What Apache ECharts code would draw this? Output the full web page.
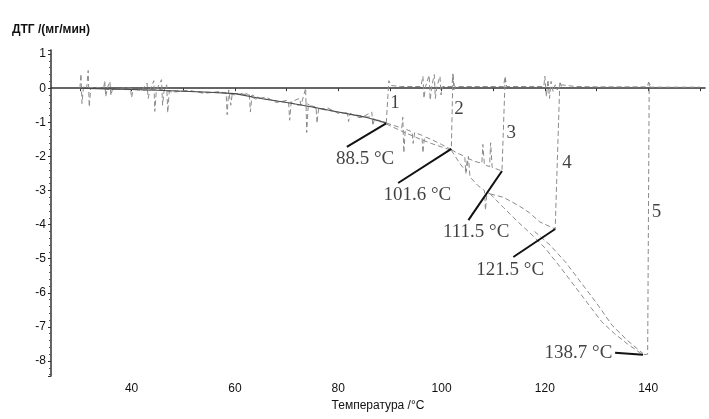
<!DOCTYPE html>
<html><head><meta charset="utf-8">
<script src="https://cdn.jsdelivr.net/npm/echarts@6/dist/echarts.min.js"></script>
<style>html,body{margin:0;padding:0;background:#fff}#c{width:709px;height:419px}</style>
</head><body><div id="c"></div>
<script>
// Smooth mean trunk (shared start of all runs)
const meanCurve = [[30,0],[35,-0.02],[40,-0.04],[45,-0.06],[50,-0.09],[55,-0.12],[60,-0.16],[65,-0.3],[70,-0.42],[75,-0.55],[80,-0.7],[85,-0.84],[89.3,-1.02]];
// Noisy trunk 30 -> 88.5 °C
const trunk = [[30,0],[30.2,0.42],[30.4,-0.45],[30.7,0.05],[31.3,0],[31.6,0.52],[31.8,-0.55],[32.1,0.02],[33,0],[34.6,-0.01],[34.8,0.22],[35,-0.25],[35.3,0],[35.8,0.2],[36,-0.22],[36.3,-0.02],[38,-0.03],[39.8,-0.03],[40,-0.28],[40.3,-0.04],[42,-0.05],[43,0.15],[43.2,-0.3],[43.6,-0.04],[44.3,0.22],[44.5,-0.68],[44.8,-0.05],[45.8,0.25],[46,-0.5],[46.3,-0.06],[46.8,0.1],[47,-0.72],[47.3,-0.07],[50,-0.09],[52,-0.1],[55,-0.12],[58.3,-0.14],[58.5,-0.78],[58.8,-0.05],[59.2,-0.5],[59.5,-0.15],[61,-0.17],[62.8,-0.19],[63,-0.7],[63.3,-0.2],[65,-0.3],[68,-0.37],[70.4,-0.42],[70.6,-0.94],[70.9,-0.4],[72.5,-0.3],[72.8,-0.5],[73.7,0.0],[73.9,-1.3],[74.2,-0.5],[75.7,-0.55],[75.9,-1.03],[76.2,-0.6],[78,-0.65],[80,-0.7],[81.8,-0.75],[82,-0.98],[82.3,-0.76],[85,-0.82],[86.5,-0.7],[86.7,-1.1],[87,-0.9],[89.3,-1.02]];
// Second run trace along the trunk (small wiggles)
const trunkB = [[30,-0.02],[33,0.03],[36,-0.05],[39,0.02],[42,-0.07],[45,-0.02],[48,-0.12],[51,-0.06],[54,-0.15],[57,-0.1],[60,-0.2],[62,-0.14],[64,-0.32],[66,-0.26],[68,-0.42],[70,-0.36],[72,-0.5],[74,-0.46],[76,-0.62],[78,-0.58],[80,-0.74],[82,-0.72],[84,-0.86],[86,-0.84],[88,-0.98],[89.3,-1.0]];
// Run 1: jump at 88.5 °C and the baseline afterwards
const run1 = [[89.3,-1.02],[89.8,0.22],[90.2,0.08],[92,0.05],[96,0.05],[96.4,0.35],[96.6,-0.3],[96.9,0.05],[97.6,0.38],[97.8,-0.35],[98.1,0.05],[98.6,0.4],[98.8,-0.3],[99.1,0.05],[99.7,0.35],[99.9,-0.2],[100.2,0.05],[102,0.05],[102.2,0.42],[102.4,-0.05],[102.7,0.05],[108,0.05],[112,0.05],[112.3,0.35],[112.6,0.05],[117,0.05],[119.8,0.05],[120,0.35],[120.3,-0.25],[120.6,0.25],[120.9,-0.3],[121.2,0.2],[121.6,-0.1],[122,0.1],[122.4,-0.05],[123,0.1],[126,0.05],[130,0.04],[135,0.04],[139.8,0.04],[140.1,0.18],[140.4,0.03],[145,0.03],[150,0.03]];
// Run 2: 88.5 -> 101.6 °C
const run2 = [[89.3,-1.02],[90.5,-1.08],[92.3,-1.17],[92.5,-0.85],[92.7,-1.9],[93,-1.2],[94.3,-1.28],[94.5,-1.62],[94.8,-1.3],[96.2,-1.38],[96.4,-1.9],[96.7,-1.42],[98,-1.5],[100,-1.65],[101.9,-1.8],[102.2,0.4],[102.5,0.05]];
// Shared part of runs 3-5 between 88.5 and 101.6 °C
const run345 = [[89.3,-1.05],[92,-1.24],[95,-1.44],[98,-1.62],[101.9,-1.82]];
// Run 3: 101.6 -> 111.5 °C
const run3 = [[101.9,-1.8],[103,-1.9],[104.5,-2.0],[104.7,-2.5],[105,-2.05],[106.5,-2.15],[107.8,-2.2],[108,-1.65],[108.3,-2.25],[109.3,-2.3],[109.5,-1.6],[109.8,-2.32],[111.7,-2.43],[112.3,0.25],[112.6,0.05]];
// Shared part of runs 4-5 after 101.6 °C
const run45 = [[101.9,-1.82],[103.5,-2.2],[104.8,-2.45],[105.2,-2.0],[105.5,-2.6],[107,-2.85],[108.3,-3.0],[108.5,-3.58],[108.8,-3.05],[109.4,-3.1]];
// Run 4: -> 121.5 °C
const run4 = [[109.4,-3.1],[112,-3.2],[115,-3.45],[117,-3.65],[119,-3.92],[122,-4.13],[122.9,0.2],[123.2,0.05]];
// Run 5: -> 138.7 °C
const run5 = [[109.4,-3.1],[112,-3.5],[115,-3.95],[117.5,-4.3],[120,-4.68],[123,-5.25],[126,-5.85],[129,-6.45],[131,-6.85],[133.5,-7.2],[136,-7.5],[139,-7.82],[139.9,-7.8],[140.2,0.15],[140.6,0.04]];
// Second trace near run 5
const run5b = [[118,-4.2],[121,-4.6],[124,-5.1],[127,-5.7],[130,-6.3],[133,-6.95],[136,-7.4],[139,-7.78]];
// Peak annotations: leader line [from, to] and label
const leaderLines = [
  [[81.67,-1.72],[89.28,-1.03]],
  [[91.6,-2.78],[101.9,-1.78]],
  [[105.2,-3.87],[111.7,-2.43]],
  [[113.9,-4.95],[122.0,-4.13]],
  [[133.6,-7.76],[139.0,-7.82]]
];
const tempLabels = [[85.2,-2.08,'88.5 °C'],[95.3,-3.13,'101.6 °C'],[106.7,-4.22,'111.5 °C'],[113.3,-5.33,'121.5 °C'],[126.5,-7.77,'138.7 °C']];
const runLabels = [[91.0,-0.43,'1'],[103.4,-0.61,'2'],[113.5,-1.31,'3'],[124.3,-2.19,'4'],[141.6,-3.63,'5']];
const xTickLabels = [40,60,80,100,120,140];

const chart = echarts.init(document.getElementById('c'));
const dashed = {color:'#8a8a8a', width:1, type:[5,3]};
const series = [];
series.push({type:'line', data:meanCurve, showSymbol:false, lineStyle:{color:'#4a4a4a', width:1.1}, z:3});
[trunk, trunkB, run1, run2, run345, run3, run45, run4, run5, run5b].forEach(d => {
  series.push({type:'line', data:d, showSymbol:false, lineStyle:dashed, z:2});
});
leaderLines.forEach(d => {
  series.push({type:'line', data:d, showSymbol:false, lineStyle:{color:'#111', width:2}, z:5});
});
const serifLabel = {show:true, position:'inside', formatter:p => p.data[2], fontFamily:'Liberation Serif', fontSize:19, color:'#111'};
series.push({type:'scatter', symbolSize:0, data:tempLabels, label:serifLabel, z:6});
series.push({type:'scatter', symbolSize:0, data:runLabels, label:serifLabel, z:6});

const axisFont = {fontFamily:'Liberation Sans', fontSize:12, color:'#111'};
chart.setOption({
  animation:false,
  grid:{left:51, right:4, top:50, bottom:43},
  xAxis:{type:'value', min:24.4, max:151, minInterval:10, maxInterval:10,
    axisLine:{lineStyle:{color:'#333', width:1.5}},
    axisTick:{length:3, lineStyle:{color:'#333'}},
    axisLabel:Object.assign({margin:7, showMinLabel:false, showMaxLabel:false,
      formatter:v => xTickLabels.indexOf(v) >= 0 ? String(v) : ''}, axisFont),
    splitLine:{show:false},
    name:'Температура /°C', nameLocation:'middle', nameGap:23,
    nameTextStyle:axisFont},
  yAxis:{type:'value', min:-8.44, max:1.12, minInterval:1, maxInterval:1,
    axisLine:{show:true, lineStyle:{color:'#333', width:1.5}},
    axisTick:{show:true, length:3, lineStyle:{color:'#333'}},
    minorTick:{show:true, splitNumber:5, length:2, lineStyle:{color:'#555'}},
    axisLabel:Object.assign({margin:5, showMinLabel:false, showMaxLabel:false}, axisFont),
    splitLine:{show:false},
    name:'ДТГ /(мг/мин)', nameLocation:'end', nameGap:14,
    nameTextStyle:Object.assign({fontWeight:'bold'}, axisFont)},
  series:series
});
</script>
</body></html>
